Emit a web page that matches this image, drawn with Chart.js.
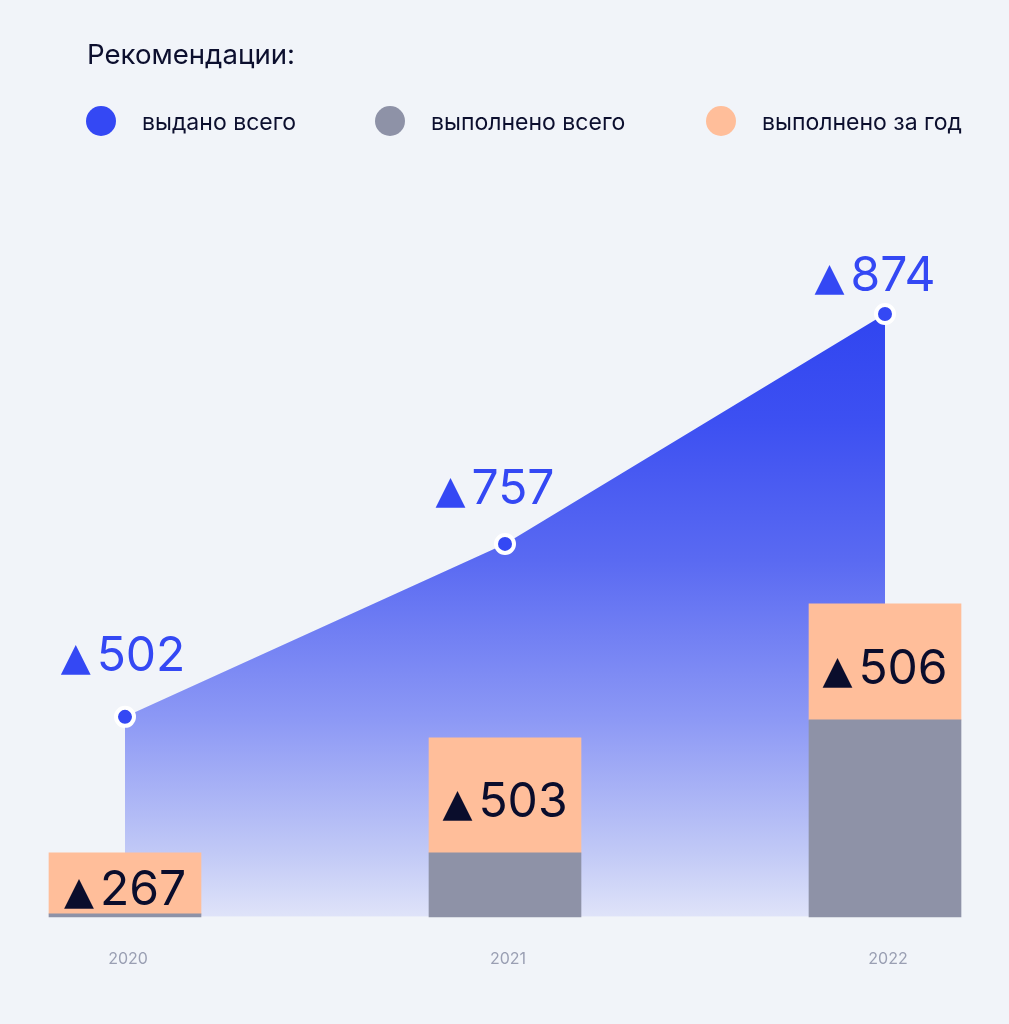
<!DOCTYPE html>
<html>
<head>
<meta charset="utf-8">
<script src="https://cdn.jsdelivr.net/npm/chart.js@4.4.1/dist/chart.umd.min.js"></script>
<style>
  html, body { margin: 0; padding: 0; background: #f1f4f9; }
  body { width: 1009px; height: 1024px; position: relative; overflow: hidden; font-family: Inter, "Noto Sans", sans-serif; color: #0c0f2e; }
  #wrap { position: absolute; left: 0; top: 0; width: 1009px; height: 1024px; }
  .title { position: absolute; left: 87px; top: 41px; font-size: 27.6px; line-height: 27px; white-space: nowrap; }
  .dot { position: absolute; width: 30px; height: 30px; border-radius: 50%; }
  .lg { position: absolute; font-size: 23px; line-height: 23px; white-space: nowrap; }
</style>
</head>
<body>
<div id="wrap"><canvas id="c"></canvas></div>
<div class="title">Рекомендации:</div>
<div id="legend"></div>
<script>
// ---- data (in chart units) ----
const years = ['2020', '2021', '2022'];
const issuedTotal = [200, 373, 603];      // line / area "выдано всего"
const doneTotal = [3, 64, 197];           // grey bars "выполнено всего"
const doneYear = [61, 115, 116];          // peach bars "выполнено за год"
const issuedLabels = ['502', '757', '874'];
const doneYearLabels = ['267', '503', '506'];
const seriesNames = ['выдано всего', 'выполнено всего', 'выполнено за год'];

const BLUE = '#3448f4';
const GREY = '#8e92a7';
const PEACH = '#ffbe9a';
const DARK = '#0a0d2c';

// legend (HTML)
const legendPos = [{dot: 86, text: 142}, {dot: 375, text: 431}, {dot: 706, text: 762}];
const legendColors = [BLUE, GREY, PEACH];
const lg = document.getElementById('legend');
seriesNames.forEach((n, i) => {
  const d = document.createElement('div');
  d.className = 'dot';
  d.style.left = legendPos[i].dot + 'px';
  d.style.top = '106px';
  d.style.background = legendColors[i];
  lg.appendChild(d);
  const t = document.createElement('div');
  t.className = 'lg';
  t.style.left = legendPos[i].text + 'px';
  t.style.top = '111px';
  t.textContent = n;
  lg.appendChild(t);
});

function drawDeltaLabel(ctx, text, cx, baseline, color) {
  ctx.save();
  ctx.fillStyle = color;
  ctx.textBaseline = 'alphabetic';
  ctx.textAlign = 'left';
  const triFont = '39px "DejaVu Sans"';
  const numFont = '48px Inter';
  ctx.font = triFont;
  const tw = ctx.measureText('▲').width;
  ctx.font = numFont;
  const nw = ctx.measureText(text).width;
  const gap = 6;
  let x = cx - (tw + gap + nw) / 2;
  ctx.font = triFont;
  ctx.fillText('▲', x, baseline - 1);
  ctx.font = numFont;
  ctx.fillText(text, x + tw + gap, baseline);
  ctx.restore();
}

const labelPlugin = {
  id: 'deltaLabels',
  afterDatasetsDraw(chart, args, opts) {
    const ctx = chart.ctx;
    const lineMeta = chart.getDatasetMeta(2);
    lineMeta.data.forEach((p, i) => {
      drawDeltaLabel(ctx, issuedLabels[i], p.x + opts.lineDx[i], p.y + opts.lineDy[i], BLUE);
    });
    const barMeta = chart.getDatasetMeta(1);
    barMeta.data.forEach((b, i) => {
      const c = (b.y + b.base) / 2;
      drawDeltaLabel(ctx, doneYearLabels[i], b.x, c + 22, DARK);
    });
  }
};

const ctx = document.getElementById('c').getContext('2d');
new Chart(ctx, {
  type: 'bar',
  data: {
    labels: years,
    datasets: [
      { label: seriesNames[1], data: doneTotal, backgroundColor: GREY, stack: 's', order: 1, barThickness: 152, clip: false, borderWidth: 0 },
      { label: seriesNames[2], data: doneYear, backgroundColor: PEACH, stack: 's', order: 1, barThickness: 152, clip: false, borderWidth: 0 },
      {
        type: 'line', label: seriesNames[0], data: issuedTotal, order: 2,
        fill: 'origin', tension: 0, borderColor: 'rgba(0,0,0,0)', borderWidth: 0,
        pointRadius: 9, pointHoverRadius: 9, pointBackgroundColor: BLUE, pointBorderColor: '#ffffff', pointBorderWidth: 4,
        clip: false,
        backgroundColor: (context) => {
          const chart = context.chart;
          const {ctx: c, chartArea, scales} = chart;
          if (!chartArea) return 'rgba(52,72,244,0.6)';
          const top = scales.y.getPixelForValue(Math.max(...issuedTotal));
          const bottom = scales.y.getPixelForValue(0);
          const g = c.createLinearGradient(0, top, 0, bottom);
          g.addColorStop(0, '#3045f0');
          g.addColorStop(0.18, '#3d50f2');
          g.addColorStop(0.41, '#5a6af2');
          g.addColorStop(0.67, '#8c98f5');
          g.addColorStop(0.89, '#c0c8f6');
          g.addColorStop(1, '#dfe3f9');
          return g;
        }
      }
    ]
  },
  options: {
    responsive: true,
    maintainAspectRatio: false,
    animation: false,
    devicePixelRatio: 1,
    layout: { padding: { left: 125, right: 124, top: 217, bottom: 22 } },
    plugins: {
      legend: { display: false },
      title: { display: false },
      tooltip: { enabled: false },
      deltaLabels: { lineDx: [-2, -10, -10], lineDy: [-46, -40, -23] }
    },
    scales: {
      x: {
        offset: false,
        stacked: true,
        grid: { display: false, drawTicks: false },
        border: { display: false },
        ticks: { color: '#9a9fb3', font: { family: 'Inter', size: 16 }, padding: 33, labelOffset: 3 }
      },
      y: {
        display: false,
        stacked: true,
        min: 0,
        max: 700
      }
    }
  },
  plugins: [labelPlugin]
});
</script>
</body>
</html>
